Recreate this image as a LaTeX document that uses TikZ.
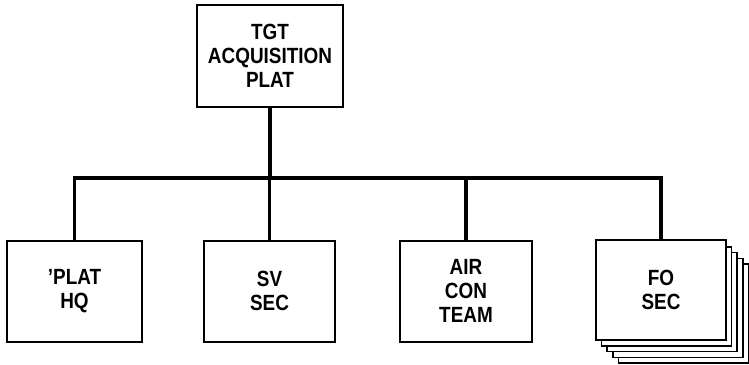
\documentclass[tikz,border=0pt]{standalone}
\usepackage{fontspec}
\setmainfont[FakeStretch=0.86]{Liberation Sans}
\usepackage{tikz}
\usetikzlibrary{positioning}

\tikzset{
    unit/.style={draw, line width=2pt, fill=white, align=center,
        font=\fontsize{22}{24}\selectfont\bfseries, inner sep=0pt},
    link/.style={line width=3.4pt}
}

\begin{document}
\begin{tikzpicture}[x=1pt, y=-1pt]
            \useasboundingbox (0, 0) rectangle (749, 364);

            \node[unit, minimum width=146pt, minimum height=102pt] (plat) at (270, 56) {TGT\\ACQUISITION\\PLAT};

            \node[unit, minimum width=135pt, minimum height=101pt] (hq)   at (74.5, 291) {’PLAT\\HQ};
            \node[unit, minimum width=131pt, minimum height=101pt] (sv)   at (269.5, 291) {SV\\SEC};
            \node[unit, minimum width=132pt, minimum height=101pt] (air)  at (466, 291) {AIR\\CON\\TEAM};

            % stacked sections behind the FO box
            \foreach \k in {4, 3, 2, 1}
                \draw[line width=1.6pt, fill=white] (596 + 5.6*\k, 241 + 5.8*\k) rectangle (726 + 5.6*\k, 340 + 5.8*\k);
            \node[unit, minimum width=130pt, minimum height=100pt] (fo)   at (661, 290) {FO\\SEC};

            \coordinate (bar) at (270, 178);
            \draw[link] (plat.south) -- (bar);
            \draw[link] (hq.north) |- (bar) -| (fo.north);
            \draw[link] (sv.north) -- (sv.north |- bar);
            \draw[link] (air.north) -- (air.north |- bar);
        \end{tikzpicture}
\end{document}
